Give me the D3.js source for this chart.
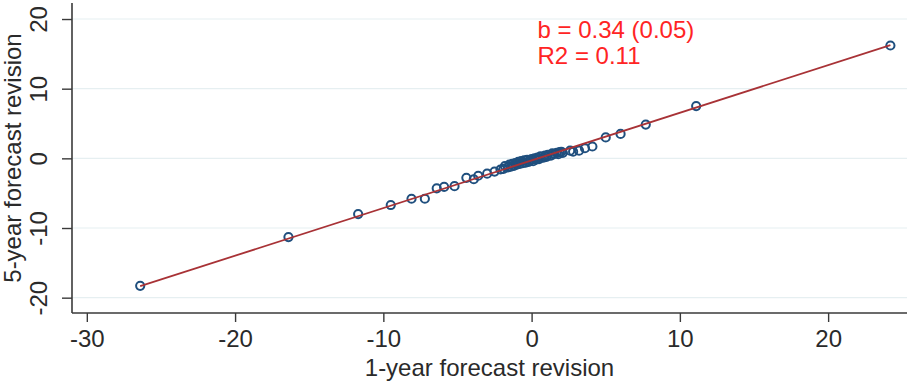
<!DOCTYPE html>
<html>
<head>
<meta charset="utf-8">
<script src="https://cdn.jsdelivr.net/npm/d3@7"></script>
<style>
  html, body { margin: 0; padding: 0; background: #fff; }
  svg { display: block; }
  text { font-family: "Liberation Sans", Arial, sans-serif; }
</style>
</head>
<body>
<svg id="chart" width="910" height="382"></svg>
<script>
// ---- data ----
const oneYearRevision = [
  -26.4, -16.4, -11.7, -9.5, -8.1, -7.2, -6.4, -5.9, -5.2, -4.4, -3.9, -3.6, -3.0, -2.5,
  -2.1, -1.9, -1.8, -1.6, -1.5, -1.4, -1.3, -1.2, -1.1, -1.0, -0.9, -0.8, -0.7, -0.6,
  -0.5, -0.4, -0.3, -0.2, -0.1, 0.0, 0.1, 0.2, 0.3, 0.4, 0.5, 0.6, 0.8, 0.9, 1.0, 1.1,
  1.3, 1.4, 1.5, 1.7, 1.8, 1.9, 2.0, 2.1, 2.6, 2.8, 3.2, 3.6, 4.1, 5.0, 6.0, 7.7, 11.1, 24.2
];
const fiveYearRevision = [
  -18.3, -11.3, -8.0, -6.7, -5.8, -5.8, -4.3, -4.1, -4.0, -2.8, -3.0, -2.5, -2.2, -1.9,
  -1.6, -1.5, -1.1, -1.3, -0.9, -1.2, -0.8, -1.1, -0.7, -0.9, -0.5, -0.8, -0.4, -0.7,
  -0.3, -0.6, -0.2, -0.5, -0.3, -0.1, -0.4, 0.0, -0.2, 0.1, -0.1, 0.3, 0.1, 0.4, 0.2, 0.5,
  0.4, 0.7, 0.6, 0.8, 0.6, 0.9, 0.95, 0.8, 1.1, 0.95, 1.1, 1.45, 1.7, 3.0, 3.5, 4.85, 7.5, 16.2
];
const fitLineX = [-26.4, 24.2];
const fitLineY = [-18.35, 16.25];
const xTicks = [-30, -20, -10, 0, 10, 20];
const yTicks = [-20, -10, 0, 10, 20];
const xTitle = "1-year forecast revision";
const yTitle = "5-year forecast revision";
const annotationLines = ["b = 0.34 (0.05)", "R2 = 0.11"];

// ---- chart ----
const svg = d3.select("#chart");
const pLeft = 72, pRight = 907, pTop = 3, pBottom = 313;

const x = d3.scaleLinear().domain([-31, 25.32]).range([pLeft, pRight]);
const y = d3.scaleLinear().domain([-22.2, 22.3]).range([pBottom, pTop]);
const fmt = d => String(d);

// gridlines
svg.append("g")
  .selectAll("line")
  .data(yTicks)
  .join("line")
  .attr("x1", pLeft).attr("x2", pRight)
  .attr("y1", d => y(d)).attr("y2", d => y(d))
  .attr("stroke", "#e6eff1")
  .attr("stroke-width", 1.2);

// x axis
const xAxis = svg.append("g")
  .attr("transform", `translate(0,${pBottom})`)
  .call(d3.axisBottom(x).tickValues(xTicks).tickSize(9).tickFormat(fmt));
xAxis.select(".domain").attr("stroke", "#3a3a3a").attr("stroke-width", 1.6)
  .attr("d", `M${pLeft},0H${pRight}`);
xAxis.selectAll(".tick line").attr("stroke", "#3a3a3a").attr("stroke-width", 1.4);
xAxis.selectAll(".tick text")
  .attr("font-size", 24)
  .attr("fill", "#2a2a2a")
  .attr("font-family", "'Liberation Sans', Arial, sans-serif")
  .attr("dy", null)
  .attr("y", 34);

// y axis
const yAxis = svg.append("g")
  .attr("transform", `translate(${pLeft},0)`)
  .call(d3.axisLeft(y).tickValues(yTicks).tickSize(10).tickFormat(fmt));
yAxis.select(".domain").attr("stroke", "#3a3a3a").attr("stroke-width", 1.6)
  .attr("d", `M0,${pTop}V${pBottom}`);
yAxis.selectAll(".tick line").attr("stroke", "#3a3a3a").attr("stroke-width", 1.4);
yAxis.selectAll(".tick text")
  .attr("font-size", 24)
  .attr("fill", "#2a2a2a")
  .attr("font-family", "'Liberation Sans', Arial, sans-serif")
  .attr("text-anchor", "middle")
  .attr("x", null).attr("dy", null)
  .attr("transform", "translate(-25,0) rotate(-90)")
  .attr("y", 0);

// axis titles
svg.append("text")
  .attr("x", (pLeft + pRight) / 2)
  .attr("y", 376)
  .attr("text-anchor", "middle")
  .attr("font-size", 24)
  .attr("fill", "#2a2a2a")
  .text(xTitle);

svg.append("text")
  .attr("transform", `translate(21,${(pTop + pBottom) / 2}) rotate(-90)`)
  .attr("text-anchor", "middle")
  .attr("font-size", 24)
  .attr("fill", "#2a2a2a")
  .text(yTitle);

// points
const pts = oneYearRevision.map((v, i) => ({ x: v, y: fiveYearRevision[i] }));
svg.append("g")
  .selectAll("circle")
  .data(pts)
  .join("circle")
  .attr("cx", d => x(d.x))
  .attr("cy", d => y(d.y))
  .attr("r", 4.1)
  .attr("fill", "none")
  .attr("stroke", "#1f4f7e")
  .attr("stroke-width", 2);

// fit line
svg.append("line")
  .attr("x1", x(fitLineX[0])).attr("y1", y(fitLineY[0]))
  .attr("x2", x(fitLineX[1])).attr("y2", y(fitLineY[1]))
  .attr("stroke", "#a83236")
  .attr("stroke-width", 1.8);

// annotation
svg.append("g")
  .selectAll("text")
  .data(annotationLines)
  .join("text")
  .attr("x", x(0.4))
  .attr("y", (d, i) => y(17.23) + i * 26)
  .attr("font-size", 24)
  .attr("fill", "#ff2424")
  .text(d => d);
</script>
</body>
</html>
